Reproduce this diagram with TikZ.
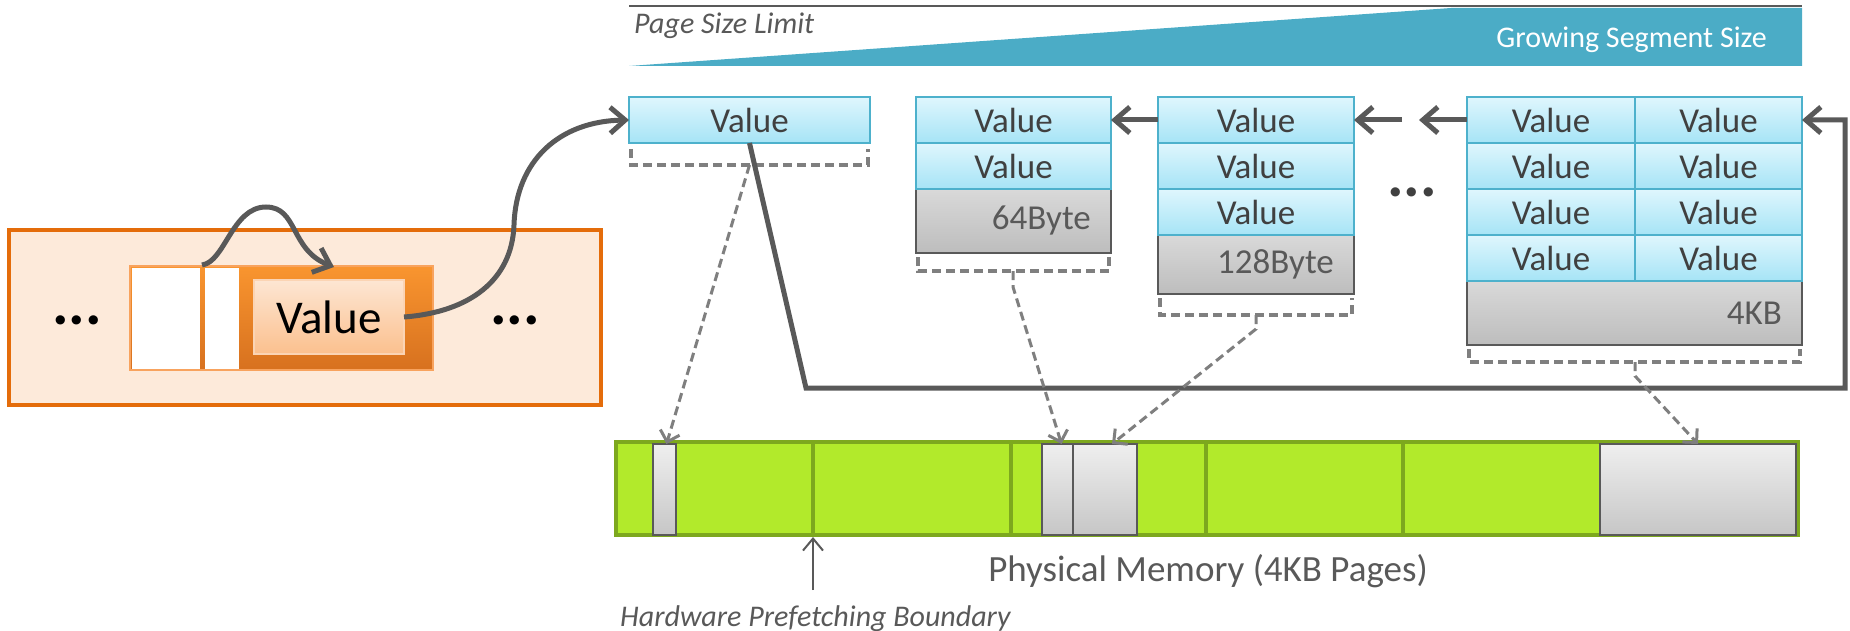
\documentclass[tikz,border=0pt]{standalone}
\usepackage{fontspec}
\setmainfont{Carlito}
\usetikzlibrary{arrows.meta,calc}
\definecolor{dgray}{HTML}{595959}
\definecolor{tgray}{HTML}{404040}
\definecolor{dashgray}{HTML}{7F7F7F}
\definecolor{segblue}{HTML}{4BACC6}
\definecolor{celltop}{HTML}{DFF6FD}
\definecolor{cellbot}{HTML}{A6E4F6}
\definecolor{cellline}{HTML}{4DB1CC}
\definecolor{graytop}{HTML}{D9D9D9}
\definecolor{graybot}{HTML}{BDBDBD}
\definecolor{orline}{HTML}{E46C0A}
\definecolor{orfill}{HTML}{FDEADA}
\definecolor{orlight}{HTML}{F8A35E}
\definecolor{ortop}{HTML}{F9952F}
\definecolor{orbot}{HTML}{D7711F}
\definecolor{pchtop}{HTML}{FDE6D3}
\definecolor{pchbot}{HTML}{FBC08E}
\definecolor{pchline}{HTML}{FBD4B4}
\definecolor{limefill}{HTML}{B2EA2B}
\definecolor{limeline}{HTML}{7DA81E}
\definecolor{memtop}{HTML}{EFEFEF}
\definecolor{membot}{HTML}{C6C6C6}
\newcommand{\fntval}{\fontsize{35pt}{40pt}\selectfont}
\newcommand{\fntbig}{\fontsize{47pt}{52pt}\selectfont}
\newcommand{\fntmem}{\fontsize{37pt}{42pt}\selectfont}
\newcommand{\fntlab}{\fontsize{30pt}{36pt}\selectfont}
\newcommand{\fntdots}{\fontsize{62pt}{66pt}\selectfont\bfseries}
\begin{document}
\begin{tikzpicture}[x=1pt,y=-1pt,
  box/.style={rectangle, inner sep=0pt, outer sep=0pt, anchor=north west},
  valcell/.style={box, draw=cellline, line width=2.5pt, top color=celltop, bottom color=cellbot, text=tgray, font=\fntval, minimum height=46pt},
  graycell/.style={box, draw=dgray, line width=2pt, top color=graytop, bottom color=graybot},
  graytext/.style={text=dgray, font=\fntval, inner sep=0pt, anchor=east},
  memblk/.style={box, draw=dgray, line width=2pt, top color=memtop, bottom color=membot, minimum height=91pt},
  sepline/.style={draw=limeline, line width=4pt},
  bracket/.style={draw=dashgray, line width=3.5pt, dash pattern=on 9pt off 5pt},
  link/.style={draw=dgray, line width=5pt, -{Straight Barb[length=15pt,width=26pt]}},
  dashlink/.style={draw=dashgray, line width=3pt, dash pattern=on 9pt off 5pt, -{Straight Barb[length=10pt,width=20pt]}},
  thinlink/.style={draw=dgray, line width=2pt, -{Straight Barb[length=12pt,width=20pt]}},
  lab/.style={text=dgray, font=\fntlab\itshape, inner sep=0pt}
]
\useasboundingbox (0,0) rectangle (1850,631);

% ---- top banner ----
\fill[segblue] (629,66) -- (1451,8) -- (1802,8) -- (1802,66) -- cycle;
\draw[dgray, line width=1.5pt] (629,6) -- (1802,6);
\node[lab, anchor=base west] (psl) at (634,34) {Page Size Limit};
\node[text=white, font=\fntlab, inner sep=0pt, anchor=base east] (gss) at (1767,48) {Growing Segment Size};

% ---- left record ----
\node[box, draw=orline, fill=orfill, line width=4.5pt, minimum width=592pt, minimum height=175pt] (outer) at (9,230) {};
\node[box, draw=orlight, top color=ortop, bottom color=orbot, line width=1.5pt, minimum width=303pt, minimum height=104pt] (cont) at (130,266) {};
\node[box, fill=white, minimum width=68pt, minimum height=101pt] (w1) at (132,268) {};
\node[box, fill=white, minimum width=34pt, minimum height=101pt] (w2) at (205,268) {};
\node[box, draw=pchline, top color=pchtop, bottom color=pchbot, line width=1.5pt, minimum width=150pt, minimum height=74pt, font=\fntbig] (lv) at (254,280) {Value};
\node[font=\fntdots, anchor=base, inner sep=0pt] (ldots) at (77,324) {...};
\node[font=\fntdots, anchor=base, inner sep=0pt] (rdots) at (515,324) {...};
\coordinate (cs) at (202,265);
\coordinate (ce) at (334,267);
\draw[link] (cs) .. controls (225,262) and (232,207) .. (266,207) .. controls (298,207) and (290,250) .. (ce);

% ---- single value ----
\node[valcell, minimum width=241pt] (v0) at (629,97) {Value};

% ---- 64 byte segment ----
\node[graycell, minimum width=195pt, minimum height=64pt] (ag) at (916,189) {};
\node[graytext] (agt) at ($(ag.east)+(-20,0)$) {64Byte};
\node[valcell, minimum width=195pt] (a1) at (916,97) {Value};
\node[valcell, minimum width=195pt] (a2) at (916,143) {Value};

% ---- 128 byte segment ----
\node[graycell, minimum width=196pt, minimum height=59pt] (bg) at (1158,235) {};
\node[graytext] (bgt) at ($(bg.east)+(-20,0)$) {128Byte};
\node[valcell, minimum width=196pt] (b1) at (1158,97) {Value};
\node[valcell, minimum width=196pt] (b2) at (1158,143) {Value};
\node[valcell, minimum width=196pt] (b3) at (1158,189) {Value};

\node[font=\fntdots, text=tgray, anchor=base, inner sep=0pt] (mdots) at (1412,197) {...};

% ---- 4KB segment ----
\node[graycell, minimum width=335pt, minimum height=64pt] (kg) at (1467,281) {};
\node[graytext] (kgt) at ($(kg.east)+(-20,0)$) {4KB};
\foreach \r/\y in {1/97,2/143,3/189,4/235}{
  \node[valcell, minimum width=168pt] (k\r a) at (1467,\y) {Value};
  \node[valcell, minimum width=167pt] (k\r b) at (1635,\y) {Value};
}

% ---- brackets ----
\draw[bracket] (631,149) -- (631,165) -- (868,165) -- (868,149);
\coordinate (b0c) at (749.5,165);
\draw[bracket] (918,257) -- (918,271) -- (1109,271) -- (1109,257);
\coordinate (b64c) at (1013,271);
\draw[bracket] (1160,298) -- (1160,315) -- (1352,315) -- (1352,298);
\coordinate (b128c) at (1256,315);
\draw[bracket] (1469,349) -- (1469,362) -- (1800,362) -- (1800,349);
\coordinate (b4kc) at (1635,362);

% ---- physical memory ----
\node[box, draw=limeline, fill=limefill, line width=4pt, minimum width=1182pt, minimum height=93pt] (mem) at (616,442) {};
\foreach \x in {813,1011,1206,1403}{ \draw[sepline] (\x,442) -- (\x,535); }
\node[memblk, minimum width=23pt] (m1) at (653,444) {};
\node[memblk, minimum width=31pt] (m2) at (1042,444) {};
\node[memblk, minimum width=64pt] (m3) at (1073,444) {};
\node[memblk, minimum width=196pt] (m4) at (1600,444) {};
\node[text=dgray, font=\fntmem, inner sep=0pt, anchor=base] (pm) at (1208,581) {Physical Memory (4KB Pages)};
\node[lab, anchor=base west] (hpb) at (620,626) {Hardware Prefetching Boundary};
\coordinate (hpbtail) at (813,590);
\coordinate (hpbtip) at (813,537);
\draw[thinlink] (hpbtail) -- (hpbtip);

% ---- connectors ----
\draw[link] (lv.east) .. controls (470,312) and (512,280) .. (514,225) .. controls (516,160) and (560,121) .. (v0.west);
\draw[link] (b1.west) -- (a1.east);
\coordinate (dt) at (1402,120);
\draw[link] (dt) -- (b1.east);
\coordinate (kt) at (1419,120);
\draw[link] (k1a.west) -- (kt);
\draw[link, line join=miter] (v0.south) -- (806,388) -- (1845,388) -- (1845,120) -- (k1b.east);

\draw[dashlink] (b0c) -- ([xshift=2pt]m1.north);
\draw[dashlink] (b64c) -- ++(0,16) -- ([xshift=4pt]m2.north);
\draw[dashlink] (b128c) -- ++(0,14) -- ([xshift=7pt]m3.north);
\draw[dashlink] (b4kc) -- ++(0,14) -- (m4.north);
\end{tikzpicture}
\end{document}
